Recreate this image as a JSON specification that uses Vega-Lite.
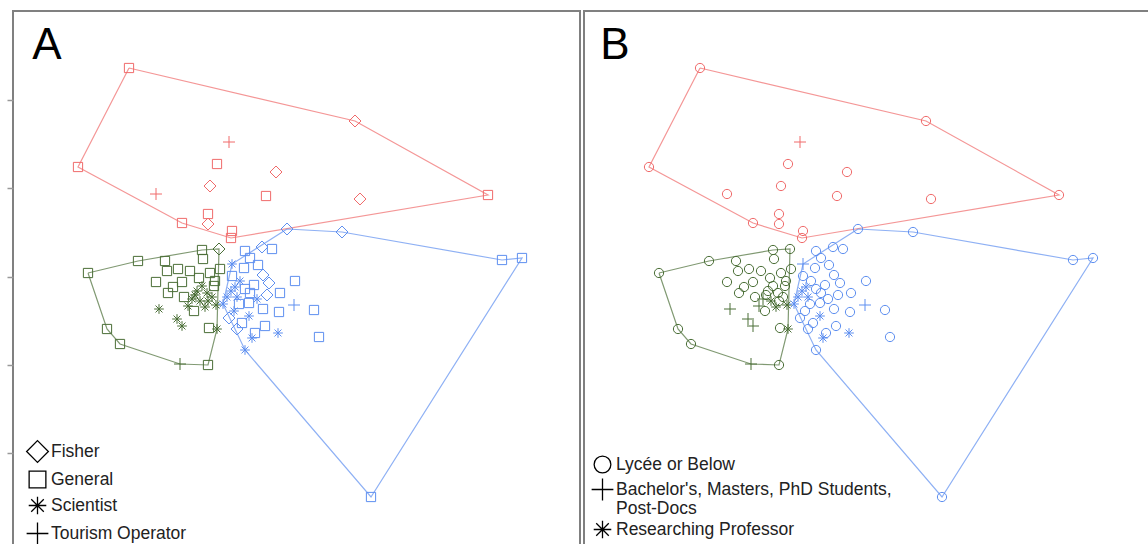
{
  "$schema": "https://vega.github.io/schema/vega-lite/v6.json",
  "padding": {"left": 5, "top": 10, "right": 0, "bottom": 0},
  "spacing": 2,
  "background": "white",
  "datasets": {
    "pts": [
      {"x": -1.63, "y": 2.09, "occ": "General", "edu": "Lycée or Below", "g": "r"},
      {"x": 0.63, "y": 1.56, "occ": "Fisher", "edu": "Lycée or Below", "g": "r"},
      {"x": 1.96, "y": 0.82, "occ": "General", "edu": "Lycée or Below", "g": "r"},
      {"x": -2.14, "y": 1.10, "occ": "General", "edu": "Lycée or Below", "g": "r"},
      {"x": -1.10, "y": 0.54, "occ": "General", "edu": "Lycée or Below", "g": "r"},
      {"x": -0.63, "y": 1.35, "occ": "Tourism Operator", "edu": "Bachelor's, Masters, PhD Students, Post-Docs", "g": "r"},
      {"x": -0.75, "y": 1.13, "occ": "General", "edu": "Lycée or Below", "g": "r"},
      {"x": -0.16, "y": 1.05, "occ": "Fisher", "edu": "Lycée or Below", "g": "r"},
      {"x": -0.82, "y": 0.91, "occ": "Fisher", "edu": "Lycée or Below", "g": "r"},
      {"x": -1.36, "y": 0.83, "occ": "Tourism Operator", "edu": "Lycée or Below", "g": "r"},
      {"x": -0.26, "y": 0.81, "occ": "General", "edu": "Lycée or Below", "g": "r"},
      {"x": 0.68, "y": 0.78, "occ": "Fisher", "edu": "Lycée or Below", "g": "r"},
      {"x": -0.84, "y": 0.63, "occ": "General", "edu": "Lycée or Below", "g": "r"},
      {"x": -0.84, "y": 0.53, "occ": "Fisher", "edu": "Lycée or Below", "g": "r"},
      {"x": -0.60, "y": 0.46, "occ": "General", "edu": "Lycée or Below", "g": "r"},
      {"x": -0.61, "y": 0.39, "occ": "General", "edu": "Lycée or Below", "g": "r"},

      {"x": -2.04, "y": 0.04, "occ": "General", "edu": "Lycée or Below", "g": "g"},
      {"x": -1.54, "y": 0.16, "occ": "General", "edu": "Lycée or Below", "g": "g"},
      {"x": -0.90, "y": 0.27, "occ": "General", "edu": "Lycée or Below", "g": "g"},
      {"x": -0.73, "y": 0.28, "occ": "Fisher", "edu": "Lycée or Below", "g": "g"},
      {"x": -1.85, "y": -0.52, "occ": "General", "edu": "Lycée or Below", "g": "g"},
      {"x": -1.72, "y": -0.67, "occ": "General", "edu": "Lycée or Below", "g": "g"},
      {"x": -1.12, "y": -0.87, "occ": "Tourism Operator", "edu": "Bachelor's, Masters, PhD Students, Post-Docs", "g": "g"},
      {"x": -0.84, "y": -0.88, "occ": "General", "edu": "Lycée or Below", "g": "g"},
      {"x": -0.75, "y": -0.52, "occ": "Scientist", "edu": "Researching Professor", "g": "g"},
      {"x": -1.27, "y": 0.16, "occ": "General", "edu": "Lycée or Below", "g": "g"},
      {"x": -1.25, "y": 0.06, "occ": "General", "edu": "Lycée or Below", "g": "g"},
      {"x": -1.02, "y": 0.06, "occ": "General", "edu": "Lycée or Below", "g": "g"},
      {"x": -1.36, "y": -0.05, "occ": "General", "edu": "Lycée or Below", "g": "g"},
      {"x": -1.10, "y": -0.05, "occ": "General", "edu": "Lycée or Below", "g": "g"},
      {"x": -1.19, "y": -0.10, "occ": "General", "edu": "Lycée or Below", "g": "g"},
      {"x": -1.24, "y": -0.16, "occ": "General", "edu": "Lycée or Below", "g": "g"},
      {"x": -0.72, "y": 0.08, "occ": "General", "edu": "Lycée or Below", "g": "g"},
      {"x": -0.77, "y": -0.04, "occ": "General", "edu": "Lycée or Below", "g": "g"},
      {"x": -0.83, "y": -0.51, "occ": "General", "edu": "Lycée or Below", "g": "g"},
      {"x": -1.33, "y": -0.32, "occ": "Scientist", "edu": "Bachelor's, Masters, PhD Students, Post-Docs", "g": "g"},
      {"x": -1.15, "y": -0.42, "occ": "Scientist", "edu": "Bachelor's, Masters, PhD Students, Post-Docs", "g": "g"},
      {"x": -1.10, "y": -0.49, "occ": "Scientist", "edu": "Bachelor's, Masters, PhD Students, Post-Docs", "g": "g"},
      {"x": -0.95, "y": -0.14, "occ": "Scientist", "edu": "Lycée or Below", "g": "g"},
      {"x": -0.90, "y": -0.09, "occ": "Scientist", "edu": "Lycée or Below", "g": "g"},
      {"x": -0.85, "y": -0.16, "occ": "Scientist", "edu": "Lycée or Below", "g": "g"},
      {"x": -1.00, "y": -0.22, "occ": "Scientist", "edu": "Bachelor's, Masters, PhD Students, Post-Docs", "g": "g"},
      {"x": -0.92, "y": -0.24, "occ": "Scientist", "edu": "Researching Professor", "g": "g"},
      {"x": -0.80, "y": -0.20, "occ": "Scientist", "edu": "Lycée or Below", "g": "g"},
      {"x": -1.04, "y": -0.29, "occ": "Scientist", "edu": "Bachelor's, Masters, PhD Students, Post-Docs", "g": "g"},
      {"x": -0.87, "y": -0.30, "occ": "Scientist", "edu": "Researching Professor", "g": "g"},
      {"x": -0.78, "y": -0.09, "occ": "General", "edu": "Lycée or Below", "g": "g"},
      {"x": -0.93, "y": -0.01, "occ": "General", "edu": "Lycée or Below", "g": "g"},
      {"x": -0.82, "y": 0.04, "occ": "General", "edu": "Lycée or Below", "g": "g"},
      {"x": -0.98, "y": -0.34, "occ": "General", "edu": "Lycée or Below", "g": "g"},
      {"x": -0.76, "y": -0.28, "occ": "Scientist", "edu": "Researching Professor", "g": "g"},
      {"x": -1.08, "y": -0.20, "occ": "General", "edu": "Lycée or Below", "g": "g"},
      {"x": -0.89, "y": 0.18, "occ": "General", "edu": "Lycée or Below", "g": "g"},
      {"x": -1.14, "y": 0.08, "occ": "General", "edu": "Lycée or Below", "g": "g"},
      {"x": -0.97, "y": -0.18, "occ": "Scientist", "edu": "Lycée or Below", "g": "g"},
      {"x": -0.84, "y": -0.24, "occ": "Scientist", "edu": "Lycée or Below", "g": "g"},

      {"x": -0.05, "y": 0.48, "occ": "Fisher", "edu": "Lycée or Below", "g": "b"},
      {"x": 0.50, "y": 0.45, "occ": "Fisher", "edu": "Lycée or Below", "g": "b"},
      {"x": 2.10, "y": 0.17, "occ": "General", "edu": "Lycée or Below", "g": "b"},
      {"x": 2.30, "y": 0.19, "occ": "General", "edu": "Lycée or Below", "g": "b"},
      {"x": 0.79, "y": -2.20, "occ": "General", "edu": "Lycée or Below", "g": "b"},
      {"x": -0.47, "y": -0.73, "occ": "Scientist", "edu": "Lycée or Below", "g": "b"},
      {"x": -0.47, "y": 0.26, "occ": "General", "edu": "Lycée or Below", "g": "b"},
      {"x": -0.20, "y": 0.28, "occ": "General", "edu": "Lycée or Below", "g": "b"},
      {"x": -0.30, "y": 0.30, "occ": "Fisher", "edu": "Lycée or Below", "g": "b"},
      {"x": -0.42, "y": 0.19, "occ": "General", "edu": "Lycée or Below", "g": "b"},
      {"x": -0.60, "y": 0.13, "occ": "Scientist", "edu": "Bachelor's, Masters, PhD Students, Post-Docs", "g": "b"},
      {"x": -0.48, "y": 0.09, "occ": "General", "edu": "Lycée or Below", "g": "b"},
      {"x": -0.29, "y": 0.02, "occ": "Fisher", "edu": "Lycée or Below", "g": "b"},
      {"x": -0.23, "y": -0.06, "occ": "Fisher", "edu": "Lycée or Below", "g": "b"},
      {"x": 0.03, "y": -0.04, "occ": "General", "edu": "Lycée or Below", "g": "b"},
      {"x": -0.47, "y": -0.12, "occ": "General", "edu": "Lycée or Below", "g": "b"},
      {"x": -0.61, "y": -0.14, "occ": "Scientist", "edu": "Researching Professor", "g": "b"},
      {"x": -0.57, "y": -0.10, "occ": "Scientist", "edu": "Researching Professor", "g": "b"},
      {"x": -0.65, "y": -0.20, "occ": "Scientist", "edu": "Researching Professor", "g": "b"},
      {"x": -0.42, "y": -0.16, "occ": "General", "edu": "Lycée or Below", "g": "b"},
      {"x": -0.25, "y": -0.18, "occ": "Fisher", "edu": "Lycée or Below", "g": "b"},
      {"x": -0.12, "y": -0.16, "occ": "General", "edu": "Lycée or Below", "g": "b"},
      {"x": 0.02, "y": -0.28, "occ": "Tourism Operator", "edu": "Bachelor's, Masters, PhD Students, Post-Docs", "g": "b"},
      {"x": 0.22, "y": -0.33, "occ": "General", "edu": "Lycée or Below", "g": "b"},
      {"x": -0.29, "y": -0.32, "occ": "General", "edu": "Lycée or Below", "g": "b"},
      {"x": -0.13, "y": -0.35, "occ": "General", "edu": "Lycée or Below", "g": "b"},
      {"x": -0.43, "y": -0.26, "occ": "General", "edu": "Lycée or Below", "g": "b"},
      {"x": -0.53, "y": -0.27, "occ": "General", "edu": "Lycée or Below", "g": "b"},
      {"x": -0.69, "y": -0.27, "occ": "Scientist", "edu": "Researching Professor", "g": "b"},
      {"x": -0.63, "y": -0.41, "occ": "Fisher", "edu": "Lycée or Below", "g": "b"},
      {"x": -0.43, "y": -0.39, "occ": "Scientist", "edu": "Researching Professor", "g": "b"},
      {"x": -0.55, "y": -0.52, "occ": "Fisher", "edu": "Lycée or Below", "g": "b"},
      {"x": -0.27, "y": -0.49, "occ": "General", "edu": "Lycée or Below", "g": "b"},
      {"x": -0.40, "y": -0.61, "occ": "Scientist", "edu": "Researching Professor", "g": "b"},
      {"x": -0.37, "y": -0.56, "occ": "General", "edu": "Lycée or Below", "g": "b"},
      {"x": -0.14, "y": -0.56, "occ": "Scientist", "edu": "Researching Professor", "g": "b"},
      {"x": 0.27, "y": -0.60, "occ": "General", "edu": "Lycée or Below", "g": "b"},
      {"x": -0.60, "y": 0.01, "occ": "General", "edu": "Lycée or Below", "g": "b"},
      {"x": -0.52, "y": -0.04, "occ": "Scientist", "edu": "Lycée or Below", "g": "b"},
      {"x": -0.35, "y": -0.22, "occ": "Scientist", "edu": "Lycée or Below", "g": "b"},
      {"x": -0.34, "y": 0.12, "occ": "General", "edu": "Lycée or Below", "g": "b"},
      {"x": -0.58, "y": -0.34, "occ": "Scientist", "edu": "Lycée or Below", "g": "b"},
      {"x": -0.50, "y": -0.46, "occ": "General", "edu": "Lycée or Below", "g": "b"},
      {"x": -0.55, "y": -0.20, "occ": "Scientist", "edu": "Researching Professor", "g": "b"},
      {"x": -0.38, "y": -0.08, "occ": "General", "edu": "Lycée or Below", "g": "b"}
    ],
    "hull": [
      {"x": -1.63, "y": 2.09, "g": "r", "o": 1},
      {"x": 0.63, "y": 1.56, "g": "r", "o": 2},
      {"x": 1.96, "y": 0.82, "g": "r", "o": 3},
      {"x": -0.61, "y": 0.39, "g": "r", "o": 4},
      {"x": -1.10, "y": 0.54, "g": "r", "o": 5},
      {"x": -2.14, "y": 1.10, "g": "r", "o": 6},
      {"x": -1.63, "y": 2.09, "g": "r", "o": 7},
      {"x": -2.04, "y": 0.04, "g": "g", "o": 1},
      {"x": -1.54, "y": 0.16, "g": "g", "o": 2},
      {"x": -0.90, "y": 0.27, "g": "g", "o": 3},
      {"x": -0.73, "y": 0.28, "g": "g", "o": 4},
      {"x": -0.75, "y": -0.52, "g": "g", "o": 5},
      {"x": -0.84, "y": -0.88, "g": "g", "o": 6},
      {"x": -1.12, "y": -0.87, "g": "g", "o": 7},
      {"x": -1.72, "y": -0.67, "g": "g", "o": 8},
      {"x": -1.85, "y": -0.52, "g": "g", "o": 9},
      {"x": -2.04, "y": 0.04, "g": "g", "o": 10},
      {"x": -0.05, "y": 0.48, "g": "b", "o": 1},
      {"x": 0.50, "y": 0.45, "g": "b", "o": 2},
      {"x": 2.10, "y": 0.17, "g": "b", "o": 3},
      {"x": 2.30, "y": 0.19, "g": "b", "o": 4},
      {"x": 0.79, "y": -2.20, "g": "b", "o": 5},
      {"x": -0.47, "y": -0.73, "g": "b", "o": 6},
      {"x": -0.69, "y": -0.27, "g": "b", "o": 7},
      {"x": -0.60, "y": 0.13, "g": "b", "o": 8},
      {"x": -0.05, "y": 0.48, "g": "b", "o": 9}
    ],
    "labA": [{"t": "A", "x": -2.45, "y": 2.31}],
    "labB": [{"t": "B", "x": -2.48, "y": 2.31}]
  },
  "config": {
    "view": {"stroke": "#808080", "strokeWidth": 2},
    "font": "Liberation Sans",
    "legend": {
      "labelFont": "Liberation Sans",
      "labelFontSize": 17.5,
      "labelColor": "#222222",
      "labelLimit": 0,
      "symbolStrokeColor": "black",
      "symbolFillColor": "transparent",
      "symbolStrokeWidth": 1.3,
      "symbolSize": 280,
      "rowPadding": 3,
      "padding": 0,
      "labelOffset": 4
    }
  },
  "resolve": {"scale": {"shape": "independent"}, "legend": {"shape": "independent"}},
  "hconcat": [
    {
      "width": 567,
      "height": 538,
      "layer": [
        {
          "data": {"name": "hull"},
          "mark": {"type": "line", "strokeWidth": 1.2, "opacity": 0.7},
          "encoding": {
            "x": {"field": "x", "type": "quantitative", "scale": {"domain": [-2.79, 2.88], "nice": false, "zero": false}, "axis": null},
            "y": {"field": "y", "type": "quantitative", "scale": {"domain": [-2.72, 2.66], "nice": false, "zero": false},
                  "axis": {"values": [1.77, 0.89, 0, -0.88, -1.76], "labels": false, "domain": false, "grid": false, "ticks": true, "tickSize": 6, "tickColor": "#999999", "tickWidth": 1.5, "title": null}},
            "color": {"field": "g", "type": "nominal", "scale": {"domain": ["r", "g", "b"], "range": ["#F06A6A", "#4A6E36", "#5E8FF0"]}, "legend": null},
            "order": {"field": "o", "type": "quantitative"}
          }
        },
        {
          "data": {"name": "pts"},
          "mark": {"type": "point", "filled": false, "strokeWidth": 1, "size": 85, "opacity": 1},
          "encoding": {
            "x": {"field": "x", "type": "quantitative", "scale": {"domain": [-2.79, 2.88], "nice": false, "zero": false}, "axis": null},
            "y": {"field": "y", "type": "quantitative", "scale": {"domain": [-2.72, 2.66], "nice": false, "zero": false}},
            "color": {"field": "g", "type": "nominal", "scale": {"domain": ["r", "g", "b"], "range": ["#F06A6A", "#4A6E36", "#5E8FF0"]}, "legend": null},
            "shape": {"field": "occ", "type": "nominal",
              "scale": {"domain": ["Fisher", "General", "Scientist", "Tourism Operator"],
                        "range": ["M0,-1.3L1.3,0L0,1.3L-1.3,0Z", "square", "M-1.05,0H1.05M0,-1.05V1.05M-0.75,-0.75L0.75,0.75M-0.75,0.75L0.75,-0.75", "M-1.3,0H1.3M0,-1.3V1.3"]},
              "legend": {"title": null, "orient": "none", "legendX": 15, "legendY": 431}}
          }
        },
        {
          "data": {"name": "labA"},
          "mark": {"type": "text", "fontSize": 44, "font": "Liberation Sans", "color": "black", "baseline": "middle", "align": "center"},
          "encoding": {
            "x": {"field": "x", "type": "quantitative", "scale": {"domain": [-2.79, 2.88], "nice": false, "zero": false}, "axis": null},
            "y": {"field": "y", "type": "quantitative", "scale": {"domain": [-2.72, 2.66], "nice": false, "zero": false}},
            "text": {"field": "t"}
          }
        }
      ]
    },
    {
      "width": 567,
      "height": 538,
      "layer": [
        {
          "data": {"name": "hull"},
          "mark": {"type": "line", "strokeWidth": 1.2, "opacity": 0.7},
          "encoding": {
            "x": {"field": "x", "type": "quantitative", "scale": {"domain": [-2.79, 2.88], "nice": false, "zero": false}, "axis": null},
            "y": {"field": "y", "type": "quantitative", "scale": {"domain": [-2.72, 2.66], "nice": false, "zero": false}, "axis": null},
            "color": {"field": "g", "type": "nominal", "scale": {"domain": ["r", "g", "b"], "range": ["#F06A6A", "#4A6E36", "#5E8FF0"]}, "legend": null},
            "order": {"field": "o", "type": "quantitative"}
          }
        },
        {
          "data": {"name": "pts"},
          "mark": {"type": "point", "filled": false, "strokeWidth": 1, "size": 85, "opacity": 1},
          "encoding": {
            "x": {"field": "x", "type": "quantitative", "scale": {"domain": [-2.79, 2.88], "nice": false, "zero": false}, "axis": null},
            "y": {"field": "y", "type": "quantitative", "scale": {"domain": [-2.72, 2.66], "nice": false, "zero": false}, "axis": null},
            "color": {"field": "g", "type": "nominal", "scale": {"domain": ["r", "g", "b"], "range": ["#F06A6A", "#4A6E36", "#5E8FF0"]}, "legend": null},
            "shape": {"field": "edu", "type": "nominal",
              "scale": {"domain": ["Lycée or Below", "Bachelor's, Masters, PhD Students, Post-Docs", "Researching Professor"],
                        "range": ["circle", "M-1.3,0H1.3M0,-1.3V1.3", "M-1.05,0H1.05M0,-1.05V1.05M-0.75,-0.75L0.75,0.75M-0.75,0.75L0.75,-0.75"]},
              "legend": {"title": null, "orient": "none", "legendX": 9, "legendY": 444, "rowPadding": 0,
                         "labelExpr": "datum.label == \"Bachelor's, Masters, PhD Students, Post-Docs\" ? [\"Bachelor's, Masters, PhD Students,\", \"Post-Docs\"] : datum.label"}}
          }
        },
        {
          "data": {"name": "labB"},
          "mark": {"type": "text", "fontSize": 44, "font": "Liberation Sans", "color": "black", "baseline": "middle", "align": "center"},
          "encoding": {
            "x": {"field": "x", "type": "quantitative", "scale": {"domain": [-2.79, 2.88], "nice": false, "zero": false}, "axis": null},
            "y": {"field": "y", "type": "quantitative", "scale": {"domain": [-2.72, 2.66], "nice": false, "zero": false}, "axis": null},
            "text": {"field": "t"}
          }
        }
      ]
    }
  ]
}
